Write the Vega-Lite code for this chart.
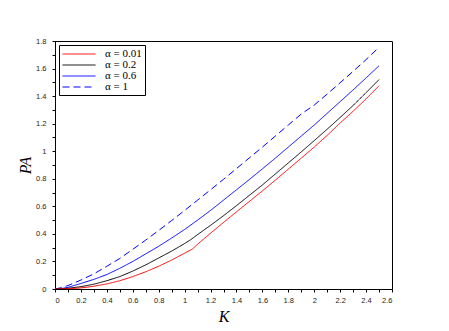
{
  "$schema": "https://vega.github.io/schema/vega-lite/v6.json",
  "width": 337,
  "height": 248,
  "autosize": "none",
  "padding": {"left": 55, "top": 41, "right": 57, "bottom": 42},
  "background": "white",
  "config": {
    "view": {"stroke": "#000", "strokeWidth": 1},
    "axis": {"grid": false, "domainColor": "#000", "tickColor": "#000", "labelFont": "Liberation Sans", "labelFontSize": 7.5, "labelColor": "#222", "tickSize": 3, "labelOverlap": false, "titleFont": "Liberation Serif", "titleFontStyle": "italic", "titleFontWeight": "normal", "titleFontSize": 16, "titleColor": "#000"}
  },
  "data": {"values": [
    {"K":0,"P":0,"s":"α = 1"},{"K":0.05,"P":0.01,"s":"α = 1"},{"K":0.1,"P":0.025,"s":"α = 1"},{"K":0.2,"P":0.065,"s":"α = 1"},{"K":0.3,"P":0.11,"s":"α = 1"},{"K":0.4,"P":0.165,"s":"α = 1"},{"K":0.5,"P":0.222,"s":"α = 1"},{"K":0.6,"P":0.288,"s":"α = 1"},{"K":0.7,"P":0.355,"s":"α = 1"},{"K":0.8,"P":0.425,"s":"α = 1"},{"K":0.9,"P":0.497,"s":"α = 1"},{"K":1.0,"P":0.57,"s":"α = 1"},{"K":1.1,"P":0.645,"s":"α = 1"},{"K":1.2,"P":0.72,"s":"α = 1"},{"K":1.3,"P":0.796,"s":"α = 1"},{"K":1.4,"P":0.874,"s":"α = 1"},{"K":1.5,"P":0.952,"s":"α = 1"},{"K":1.6,"P":1.03,"s":"α = 1"},{"K":1.7,"P":1.11,"s":"α = 1"},{"K":1.8,"P":1.19,"s":"α = 1"},{"K":1.9,"P":1.27,"s":"α = 1"},{"K":2.0,"P":1.335,"s":"α = 1"},{"K":2.1,"P":1.415,"s":"α = 1"},{"K":2.2,"P":1.497,"s":"α = 1"},{"K":2.3,"P":1.58,"s":"α = 1"},{"K":2.4,"P":1.665,"s":"α = 1"},{"K":2.5,"P":1.755,"s":"α = 1"},
    {"K":0,"P":0,"s":"α = 0.6"},{"K":0.05,"P":0.003,"s":"α = 0.6"},{"K":0.1,"P":0.012,"s":"α = 0.6"},{"K":0.2,"P":0.04,"s":"α = 0.6"},{"K":0.3,"P":0.07,"s":"α = 0.6"},{"K":0.4,"P":0.105,"s":"α = 0.6"},{"K":0.5,"P":0.15,"s":"α = 0.6"},{"K":0.6,"P":0.2,"s":"α = 0.6"},{"K":0.7,"P":0.255,"s":"α = 0.6"},{"K":0.8,"P":0.31,"s":"α = 0.6"},{"K":0.9,"P":0.37,"s":"α = 0.6"},{"K":1.0,"P":0.432,"s":"α = 0.6"},{"K":1.1,"P":0.5,"s":"α = 0.6"},{"K":1.2,"P":0.57,"s":"α = 0.6"},{"K":1.3,"P":0.645,"s":"α = 0.6"},{"K":1.4,"P":0.72,"s":"α = 0.6"},{"K":1.5,"P":0.795,"s":"α = 0.6"},{"K":1.6,"P":0.872,"s":"α = 0.6"},{"K":1.7,"P":0.95,"s":"α = 0.6"},{"K":1.8,"P":1.03,"s":"α = 0.6"},{"K":1.9,"P":1.11,"s":"α = 0.6"},{"K":2.0,"P":1.19,"s":"α = 0.6"},{"K":2.1,"P":1.275,"s":"α = 0.6"},{"K":2.2,"P":1.36,"s":"α = 0.6"},{"K":2.3,"P":1.445,"s":"α = 0.6"},{"K":2.4,"P":1.532,"s":"α = 0.6"},{"K":2.5,"P":1.62,"s":"α = 0.6"},
    {"K":0,"P":0,"s":"α = 0.2"},{"K":0.05,"P":0.001,"s":"α = 0.2"},{"K":0.1,"P":0.005,"s":"α = 0.2"},{"K":0.2,"P":0.017,"s":"α = 0.2"},{"K":0.3,"P":0.035,"s":"α = 0.2"},{"K":0.4,"P":0.06,"s":"α = 0.2"},{"K":0.5,"P":0.09,"s":"α = 0.2"},{"K":0.6,"P":0.13,"s":"α = 0.2"},{"K":0.7,"P":0.175,"s":"α = 0.2"},{"K":0.8,"P":0.225,"s":"α = 0.2"},{"K":0.9,"P":0.275,"s":"α = 0.2"},{"K":1.0,"P":0.33,"s":"α = 0.2"},{"K":1.05,"P":0.36,"s":"α = 0.2"},{"K":1.1,"P":0.395,"s":"α = 0.2"},{"K":1.2,"P":0.462,"s":"α = 0.2"},{"K":1.3,"P":0.532,"s":"α = 0.2"},{"K":1.4,"P":0.605,"s":"α = 0.2"},{"K":1.5,"P":0.68,"s":"α = 0.2"},{"K":1.6,"P":0.755,"s":"α = 0.2"},{"K":1.7,"P":0.835,"s":"α = 0.2"},{"K":1.8,"P":0.915,"s":"α = 0.2"},{"K":1.9,"P":0.995,"s":"α = 0.2"},{"K":2.0,"P":1.077,"s":"α = 0.2"},{"K":2.1,"P":1.16,"s":"α = 0.2"},{"K":2.2,"P":1.245,"s":"α = 0.2"},{"K":2.3,"P":1.332,"s":"α = 0.2"},{"K":2.4,"P":1.425,"s":"α = 0.2"},{"K":2.5,"P":1.52,"s":"α = 0.2"},
    {"K":0,"P":0,"s":"α = 0.01"},{"K":0.1,"P":0.002,"s":"α = 0.01"},{"K":0.2,"P":0.008,"s":"α = 0.01"},{"K":0.3,"P":0.02,"s":"α = 0.01"},{"K":0.4,"P":0.037,"s":"α = 0.01"},{"K":0.5,"P":0.06,"s":"α = 0.01"},{"K":0.6,"P":0.09,"s":"α = 0.01"},{"K":0.7,"P":0.125,"s":"α = 0.01"},{"K":0.8,"P":0.165,"s":"α = 0.01"},{"K":0.9,"P":0.21,"s":"α = 0.01"},{"K":1.0,"P":0.26,"s":"α = 0.01"},{"K":1.06,"P":0.29,"s":"α = 0.01"},{"K":1.1,"P":0.325,"s":"α = 0.01"},{"K":1.2,"P":0.405,"s":"α = 0.01"},{"K":1.3,"P":0.483,"s":"α = 0.01"},{"K":1.4,"P":0.56,"s":"α = 0.01"},{"K":1.5,"P":0.636,"s":"α = 0.01"},{"K":1.6,"P":0.712,"s":"α = 0.01"},{"K":1.7,"P":0.79,"s":"α = 0.01"},{"K":1.8,"P":0.87,"s":"α = 0.01"},{"K":1.9,"P":0.95,"s":"α = 0.01"},{"K":2.0,"P":1.03,"s":"α = 0.01"},{"K":2.1,"P":1.115,"s":"α = 0.01"},{"K":2.2,"P":1.205,"s":"α = 0.01"},{"K":2.3,"P":1.29,"s":"α = 0.01"},{"K":2.4,"P":1.38,"s":"α = 0.01"},{"K":2.5,"P":1.475,"s":"α = 0.01"}
  ]},
  "mark": {"type": "line", "strokeWidth": 1, "clip": true},
  "encoding": {
    "x": {"field": "K", "type": "quantitative", "scale": {"domain": [0, 2.6], "nice": false, "zero": false},
      "axis": {"title": "K", "values": [0,0.1,0.2,0.3,0.4,0.5,0.6,0.7,0.8,0.9,1,1.1,1.2,1.3,1.4,1.5,1.6,1.7,1.8,1.9,2,2.1,2.2,2.3,2.4,2.5,2.6],
        "labelExpr": "round(datum.value*10)%2==0 ? format(datum.value,'.1~f') : ''", "labelPadding": 4, "titlePadding": 5}},
    "y": {"field": "P", "type": "quantitative", "scale": {"domain": [0, 1.8], "nice": false, "zero": false},
      "axis": {"title": "PA", "values": [0,0.1,0.2,0.3,0.4,0.5,0.6,0.7,0.8,0.9,1,1.1,1.2,1.3,1.4,1.5,1.6,1.7,1.8],
        "labelExpr": "round(datum.value*10)%2==0 ? format(datum.value,'.1~f') : ''", "labelPadding": 6, "titlePadding": 2}},
    "color": {"field": "s", "type": "nominal", "sort": ["α = 0.01","α = 0.2","α = 0.6","α = 1"],
      "scale": {"domain": ["α = 0.01","α = 0.2","α = 0.6","α = 1"], "range": ["#ff0000","#000000","#0000ff","#0000ff"]},
      "legend": {"title": null, "orient": "top-left", "offset": 4, "padding": 3, "strokeColor": "#000", "fillColor": "#fff", "symbolType": "M-1,0H5", "symbolSize": 121, "symbolStrokeWidth": 1, "labelFont": "Liberation Serif", "labelFontSize": 11, "labelFontWeight": "normal", "labelColor": "#000", "labelOffset": 31, "rowPadding": 0}},
    "strokeDash": {"field": "s", "type": "nominal", "sort": ["α = 0.01","α = 0.2","α = 0.6","α = 1"],
      "scale": {"domain": ["α = 0.01","α = 0.2","α = 0.6","α = 1"], "range": [[1,0],[1,0],[1,0],[7,4]]},
      "legend": {"title": null}}
  }
}
